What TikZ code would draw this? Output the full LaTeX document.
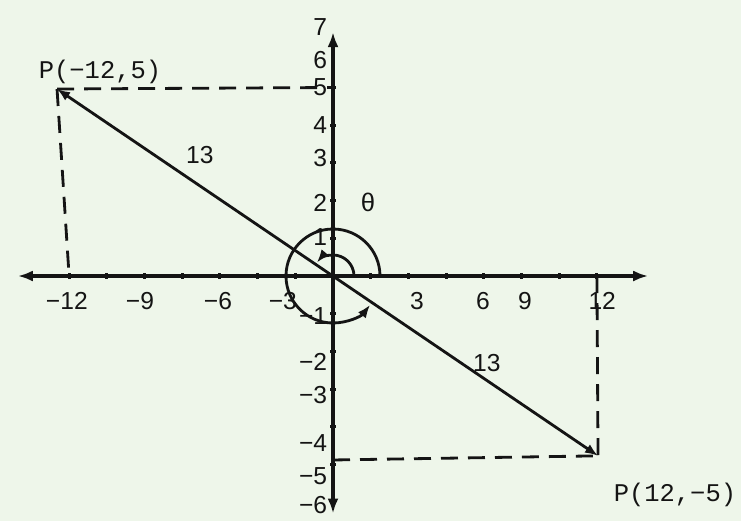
\documentclass[tikz,border=0pt]{standalone}
\usepackage{fontspec}
\setmainfont{Liberation Sans}
\newfontfamily\typefont{Liberation Mono}
\usetikzlibrary{arrows.meta,positioning,calc}
\definecolor{paper}{HTML}{EEF6EA}
\definecolor{ink}{HTML}{141414}

\begin{document}
\begin{tikzpicture}[x=0.754cm, y=0.754cm,
  axis/.style={-{Latex[length=3mm,width=2.2mm]}, ink, line width=1.9pt},
  guide/.style={ink, line width=1.6pt, dash pattern=on 0.34cm off 0.2cm},
  ray/.style={{Latex[length=2.6mm,width=2mm]}-{Latex[length=2.6mm,width=2mm]}, ink, line width=1.6pt},
  turn/.style={-{Latex[length=2.6mm,width=2mm]}, ink, line width=1.6pt},
  num/.style={font=\fontsize{14}{16}\selectfont, text=ink, inner sep=1pt},
  pt/.style={font=\typefont\fontsize{14.5}{16}\selectfont, text=ink, inner sep=1pt}
]
\fill[paper] (-8.833,-6.499) rectangle (10.822,7.321);
\useasboundingbox (-8.833,-6.499) rectangle (10.822,7.321);

\coordinate (O) at (0,0);
\coordinate (xl) at (-8.36,0);
\coordinate (xr) at (8.36,0);
\coordinate (yt) at (0,6.47);
\coordinate (yb) at (0,-6.3);
\coordinate (P1) at (-7.32,4.96);
\coordinate (P2) at (7.03,-4.77);
\coordinate (xa) at (-7,0);
\coordinate (xb) at (7,0);
\coordinate (ya) at (0,5);
\coordinate (yc) at (0,-4.88);

% projections
\draw[guide] (P1) -- (ya);
\draw[guide] (P1) -- (xa);
\draw[guide] (xb) -- (P2);
\draw[guide] (yc) -- (P2);

\draw[ray] (P1) -- (P2);

% axes
\draw[axis] (O) -- (xr);
\draw[axis] (O) -- (xl);
\draw[axis] (O) -- (yt);
\draw[axis] (O) -- (yb);
\foreach \i in {-7,...,-1,1,2,...,7}
  \draw[ink, line width=1.8pt] (\i,-0.07) -- (\i,0.07);
\foreach \i in {-5,...,-1,1,2,...,5}
  \draw[ink, line width=1.8pt] (-0.07,\i) -- (0.07,\i);

\foreach \t/\p [count=\k] in {−12/-7.06, −9/-5.12, −6/-3.05, −3/-1.33, 3/2.23, 6/3.98, 9/5.09, 12/7.14}
  \node[num] (xn\k) at (\p,-0.66) {\t};
\foreach \t/\p [count=\k] in {7/6.6, 6/5.73, 5/5.01, 4/4.0, 3/3.13, 2/1.94, 1/1.03, −1/-1.06, −2/-2.28, −3/-3.16, −4/-4.43, −5/-5.3, −6/-6.07}
  \node[num, anchor=east] (yn\k) at (-0.1,\p) {\t};

% angles
\draw[turn] (O) ++(0:0.42cm) arc[start angle=0, end angle=140, radius=0.42cm];
\draw[turn] (O) ++(0:0.94cm) arc[start angle=0, end angle=322, radius=0.94cm];
\node[pt] (th) at (0.93,1.94) {θ};

\node[num] (r1) at (-3.53,3.21) {13};
\node[num] (r2) at (4.08,-2.31) {13};
\node[pt] (lp1) at (-6.18,5.41) {P(−12,5)};
\node[pt] (lp2) at (9.07,-5.81) {P(12,−5)};
\end{tikzpicture}
\end{document}
